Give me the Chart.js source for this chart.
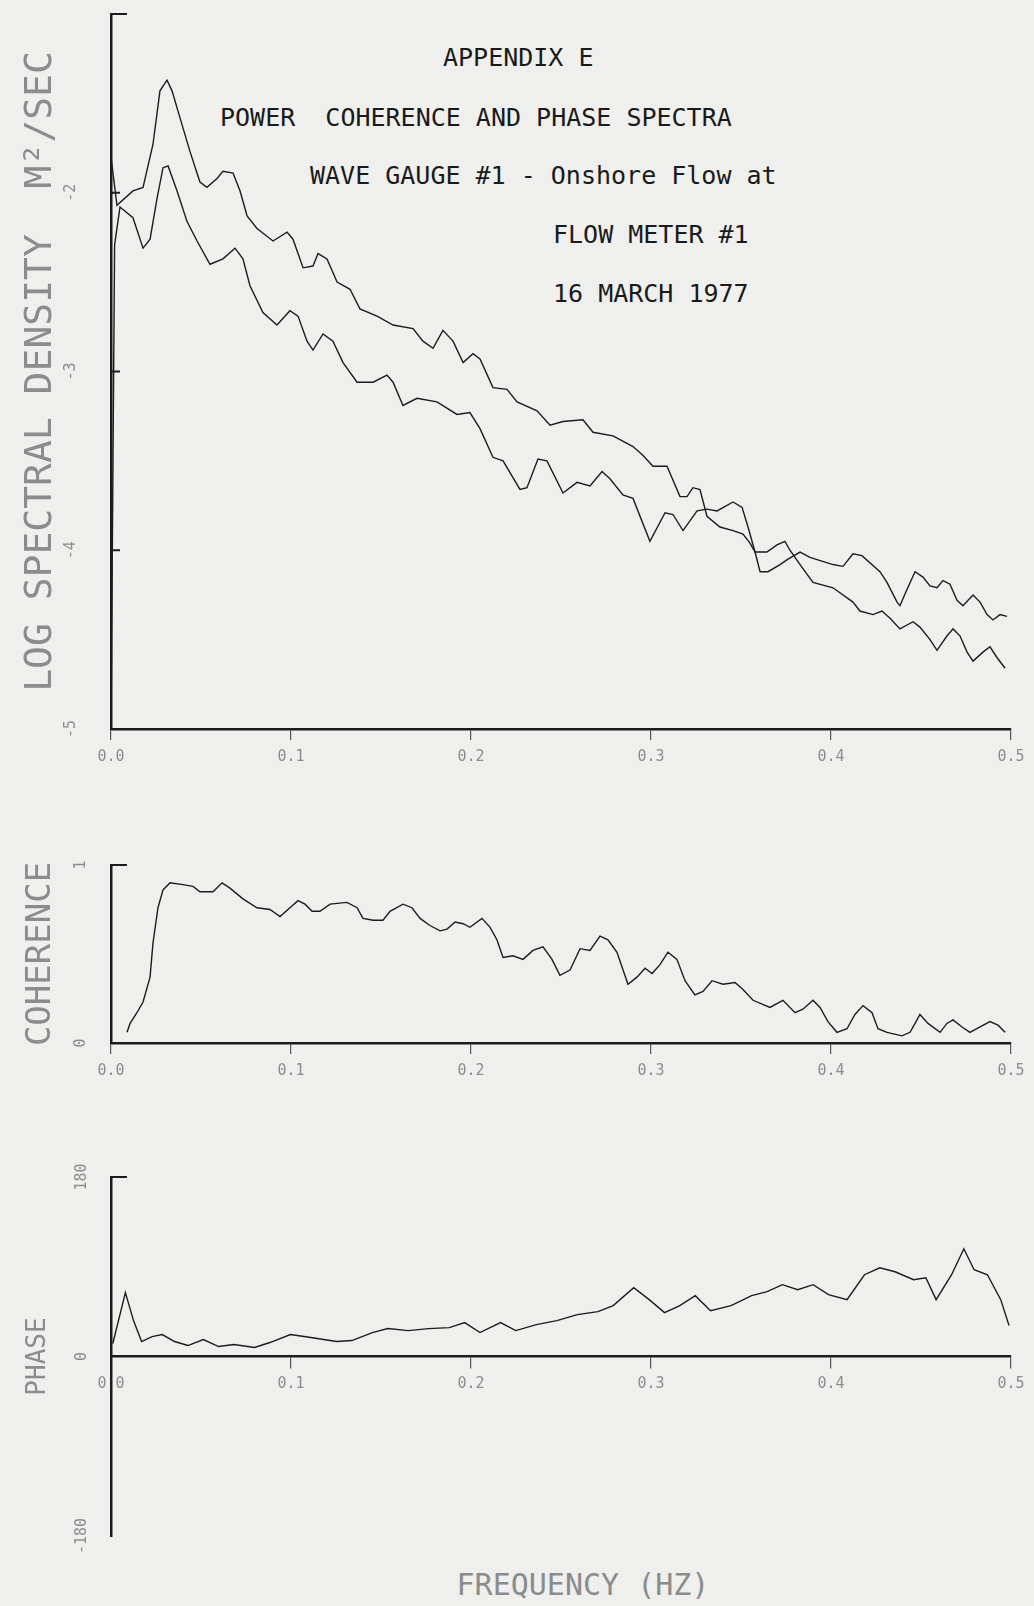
<!DOCTYPE html>
<html>
<head>
<meta charset="utf-8">
<script src="https://cdn.jsdelivr.net/npm/chart.js@4"></script>
<style>
  html, body { margin: 0; padding: 0; background: #efefed; }
  #page { position: relative; width: 1034px; height: 1606px; overflow: hidden; }
  canvas { position: absolute; left: 0; }
  .hdr { position: absolute; font-family: 'DejaVu Sans Mono', monospace; font-size: 25px; color: #1a1a1a; white-space: pre; line-height: 30px; }
  .xlab { position: absolute; font-family: 'DejaVu Sans Mono', monospace; font-size: 30px; color: #8c8c8c; white-space: pre; line-height: 36px; transform: translateX(-50%); }
</style>
</head>
<body>
<div id="page">
  <div class="hdr" style="left:443px; top:43px;">APPENDIX E</div>
  <div class="hdr" style="left:220px; top:103px;">POWER  COHERENCE AND PHASE SPECTRA</div>
  <div class="hdr" style="left:310px; top:161px;">WAVE GAUGE #1 - Onshore Flow at</div>
  <div class="hdr" style="left:553px; top:220px;">FLOW METER #1</div>
  <div class="hdr" style="left:553px; top:279px;">16 MARCH 1977</div>
  <canvas id="spec" width="1034" height="769" style="top:0px"></canvas>
  <canvas id="coh" width="1034" height="243" style="top:840px"></canvas>
  <canvas id="phase" width="1034" height="410" style="top:1150px"></canvas>
  <div class="xlab" style="left:583px; top:1567px;">FREQUENCY (HZ)</div>
</div>
<script>
// frequency ticks (Hz)
const freqTicks = [0, 0.1, 0.2, 0.3, 0.4, 0.5];

// log spectral density, upper curve near the peak
const specFreqA = [0, 0.0033, 0.0122, 0.0178, 0.0233, 0.0272, 0.0311, 0.0339, 0.0383, 0.0439,
  0.0494, 0.0533, 0.0589, 0.0622, 0.0678, 0.0717, 0.0756, 0.0811, 0.09, 0.0978,
  0.1011, 0.1067, 0.1122, 0.115, 0.12, 0.1256, 0.1328, 0.1383, 0.1478, 0.1567,
  0.1678, 0.1733, 0.1789, 0.1844, 0.19, 0.1956, 0.2011, 0.205, 0.2122, 0.22,
  0.2256, 0.2367, 0.2439, 0.2511, 0.2622, 0.2678, 0.2789, 0.29, 0.2956, 0.3011,
  0.3089, 0.3161, 0.32, 0.3233, 0.3272, 0.3311, 0.3383, 0.3456, 0.3511, 0.355,
  0.3578, 0.3644, 0.37, 0.3744, 0.3772, 0.3828, 0.39, 0.4011, 0.4122, 0.4161,
  0.4233, 0.4283, 0.4328, 0.4383, 0.4456, 0.4494, 0.455, 0.4589, 0.4644, 0.4678,
  0.4717, 0.4756, 0.4789, 0.4844, 0.4883, 0.4922, 0.4967];
const specA = [-1.80, -2.07, -1.99, -1.97, -1.73, -1.43, -1.37, -1.43, -1.58, -1.77,
  -1.94, -1.97, -1.92, -1.88, -1.89, -1.99, -2.13, -2.20, -2.27, -2.22,
  -2.26, -2.42, -2.41, -2.34, -2.37, -2.50, -2.54, -2.65, -2.69, -2.74,
  -2.76, -2.83, -2.87, -2.77, -2.83, -2.95, -2.90, -2.93, -3.09, -3.10,
  -3.17, -3.22, -3.30, -3.28, -3.27, -3.34, -3.36, -3.42, -3.47, -3.53,
  -3.53, -3.70, -3.70, -3.65, -3.66, -3.81, -3.87, -3.89, -3.91, -3.96,
  -4.01, -4.01, -3.97, -3.95, -4.00, -4.08, -4.18, -4.21, -4.29, -4.34,
  -4.36, -4.34, -4.38, -4.44, -4.40, -4.43, -4.50, -4.56, -4.48, -4.44,
  -4.48, -4.57, -4.62, -4.57, -4.54, -4.60, -4.66];

// log spectral density, second curve
const specFreqB = [0, 0.002, 0.005, 0.0122, 0.0178, 0.0217, 0.0256, 0.0289, 0.0317, 0.0367,
  0.0422, 0.0478, 0.055, 0.0622, 0.0689, 0.0733, 0.0772, 0.0844, 0.0922, 0.0994,
  0.1039, 0.1089, 0.1122, 0.1178, 0.1233, 0.1289, 0.1367, 0.1456, 0.1533, 0.1567,
  0.1622, 0.17, 0.1811, 0.1922, 0.1994, 0.205, 0.2122, 0.2178, 0.2272, 0.2311,
  0.2372, 0.2422, 0.2511, 0.2589, 0.2661, 0.2728, 0.2772, 0.2844, 0.29, 0.2994,
  0.3078, 0.3122, 0.3178, 0.3256, 0.3311, 0.3367, 0.3456, 0.3506, 0.3539, 0.3578,
  0.3606, 0.365, 0.3717, 0.3761, 0.3828, 0.3883, 0.4011, 0.4067, 0.4122, 0.4172,
  0.4272, 0.4311, 0.4367, 0.4383, 0.4422, 0.4467, 0.4511, 0.455, 0.4589, 0.4622,
  0.4661, 0.47, 0.4733, 0.4789, 0.4828, 0.4867, 0.49, 0.4939, 0.4978];
const specB = [-5.00, -2.29, -2.08, -2.14, -2.31, -2.26, -2.03, -1.86, -1.85, -1.99,
  -2.16, -2.27, -2.40, -2.37, -2.31, -2.37, -2.52, -2.67, -2.74, -2.66,
  -2.69, -2.83, -2.88, -2.79, -2.83, -2.95, -3.06, -3.06, -3.02, -3.06,
  -3.19, -3.15, -3.17, -3.24, -3.23, -3.32, -3.48, -3.50, -3.66, -3.65,
  -3.49, -3.50, -3.68, -3.62, -3.64, -3.56, -3.60, -3.69, -3.71, -3.95,
  -3.79, -3.80, -3.89, -3.78, -3.77, -3.78, -3.73, -3.76, -3.87, -4.01,
  -4.12, -4.12, -4.08, -4.05, -4.01, -4.04, -4.08, -4.09, -4.02, -4.03,
  -4.12, -4.18, -4.29, -4.31, -4.22, -4.12, -4.15, -4.20, -4.21, -4.17,
  -4.19, -4.28, -4.31, -4.25, -4.29, -4.36, -4.39, -4.36, -4.37];

// coherence
const cohFreq = [0.0089, 0.0106, 0.0144, 0.0178, 0.0217, 0.0233, 0.0261, 0.0289, 0.0328, 0.04,
  0.0456, 0.0494, 0.0567, 0.0617, 0.0661, 0.0733, 0.0811, 0.0883, 0.0939, 0.0994,
  0.1039, 0.1078, 0.1117, 0.1161, 0.1217, 0.1311, 0.1367, 0.14, 0.1456, 0.1511,
  0.155, 0.1622, 0.1672, 0.1717, 0.1772, 0.1828, 0.1867, 0.1911, 0.1956, 0.1994,
  0.2061, 0.2106, 0.2144, 0.2178, 0.2233, 0.2289, 0.2344, 0.24, 0.245, 0.2494,
  0.255, 0.2606, 0.2661, 0.2717, 0.2761, 0.2811, 0.2872, 0.2922, 0.2967, 0.3006,
  0.305, 0.3094, 0.3144, 0.3189, 0.3244, 0.3289, 0.3339, 0.34, 0.3467, 0.3511,
  0.3567, 0.3661, 0.3733, 0.38, 0.3844, 0.39, 0.3939, 0.3983, 0.4033, 0.4089,
  0.4133, 0.4178, 0.4228, 0.4261, 0.4311, 0.4394, 0.4439, 0.4467, 0.4494, 0.4539,
  0.4606, 0.4644, 0.4678, 0.4728, 0.4772, 0.4828, 0.4883, 0.4928, 0.4967];
const coh = [0.06, 0.11, 0.17, 0.23, 0.37, 0.56, 0.76, 0.86, 0.90, 0.89,
  0.88, 0.85, 0.85, 0.90, 0.87, 0.81, 0.76, 0.75, 0.71, 0.76,
  0.80, 0.78, 0.74, 0.74, 0.78, 0.79, 0.76, 0.70, 0.69, 0.69,
  0.74, 0.78, 0.76, 0.70, 0.66, 0.63, 0.64, 0.68, 0.67, 0.65,
  0.70, 0.65, 0.58, 0.48, 0.49, 0.47, 0.52, 0.54, 0.47, 0.38,
  0.41, 0.53, 0.52, 0.60, 0.58, 0.51, 0.33, 0.37, 0.42, 0.39,
  0.44, 0.51, 0.47, 0.35, 0.27, 0.29, 0.35, 0.33, 0.34, 0.30,
  0.24, 0.20, 0.24, 0.17, 0.19, 0.24, 0.20, 0.12, 0.06, 0.08,
  0.16, 0.21, 0.17, 0.08, 0.06, 0.04, 0.06, 0.11, 0.16, 0.11,
  0.06, 0.11, 0.13, 0.09, 0.06, 0.09, 0.12, 0.10, 0.06];

// phase (degrees)
const phaseFreq = [0.001, 0.008, 0.0125, 0.017, 0.0228, 0.0285, 0.0353, 0.0427, 0.0513, 0.0598,
  0.0683, 0.0797, 0.0883, 0.0997, 0.111, 0.1253, 0.1338, 0.1452, 0.1538, 0.1651,
  0.1765, 0.1879, 0.1965, 0.205, 0.2164, 0.2249, 0.2363, 0.2477, 0.2591, 0.2705,
  0.279, 0.2904, 0.299, 0.3075, 0.316, 0.3246, 0.3331, 0.3445, 0.3559, 0.3645,
  0.373, 0.3815, 0.3901, 0.3986, 0.4089, 0.4186, 0.4271, 0.4356, 0.4459, 0.4527,
  0.4584, 0.467, 0.4738, 0.4795, 0.4869, 0.4943, 0.4989];
const phase = [13, 64, 36, 15, 20, 22, 15, 11, 17, 10,
  12, 9, 14, 22, 19, 15, 16, 24, 28, 26,
  28, 29, 34, 24, 34, 26, 32, 36, 42, 45,
  51, 69, 57, 44, 51, 61, 46, 51, 61, 65,
  72, 67, 72, 62, 57, 82, 89, 85, 77, 79,
  57, 82, 108, 87, 82, 57, 31];

const specTicks = [-1, -2, -3, -4, -5];
const cohTicks = [0, 1];
const phaseTicks = [-180, 0, 180];

const INK = '#1c1c1c';
const FAINT = '#8c8c8c';
const MONO = "'DejaVu Sans Mono', monospace";

function pts(xs, ys) {
    return xs.map((x, i) => ({ x: x, y: ys[i] }));
}

// short tick marks drawn inside the plot on the y axis
const innerTicks = {
    id: 'innerTicks',
    afterDraw(chart) {
        const y = chart.scales.y;
        const ctx = chart.ctx;
        const left = chart.chartArea.left;
        ctx.save();
        ctx.strokeStyle = INK;
        ctx.lineWidth = 2;
        y.ticks.forEach(t => {
            if (t.value === y.min || t.value === 0) return;
            const py = y.getPixelForValue(t.value);
            const len = t.value === y.max ? 16 : 9;
            ctx.beginPath();
            ctx.moveTo(left, py);
            ctx.lineTo(left + len, py);
            ctx.stroke();
        });
        ctx.restore();
    }
};

function makeChart(id, datasets, yOpts, padTop, padBottom, xOnZero) {
    const xScale = {
        type: 'linear',
        min: 0,
        max: 0.5,
        afterBuildTicks: s => { s.ticks = freqTicks.map(v => ({ value: v })); },
        afterFit: s => { s.height = 40; },
        ticks: {
            color: FAINT,
            font: { family: MONO, size: 15 },
            padding: 8,
            maxRotation: 0,
            callback: v => v.toFixed(1)
        },
        grid: { drawOnChartArea: false, drawTicks: true, tickLength: 11, color: '#555', lineWidth: 1.2 },
        border: { display: true, color: INK, width: 2.5 }
    };
    if (xOnZero) xScale.position = { y: 0 };
    return new Chart(document.getElementById(id), {
        type: 'line',
        data: { datasets: datasets },
        options: {
            responsive: false,
            animation: false,
            layout: { padding: { top: padTop, right: 23, bottom: padBottom, left: 0 } },
            plugins: { legend: { display: false }, tooltip: { enabled: false } },
            elements: { point: { radius: 0 }, line: { tension: 0 } },
            scales: {
                x: xScale,
                y: Object.assign({
                    type: 'linear',
                    afterFit: s => { s.width = 111; s.paddingTop = 0; s.paddingBottom = 0; },
                    grid: { drawOnChartArea: false, drawTicks: false },
                    border: { display: true, color: INK, width: 2.5 }
                }, yOpts)
            }
        },
        plugins: [innerTicks]
    });
}

function line(data) {
    return { data: data, borderColor: INK, borderWidth: 1.4, fill: false, pointRadius: 0 };
}

function yAxis(min, max, ticks, title, titleSize, titlePad, tickPad, hide) {
    return {
        min: min,
        max: max,
        afterBuildTicks: s => { s.ticks = ticks.map(v => ({ value: v })); },
        ticks: {
            color: FAINT,
            font: { family: MONO, size: 15 },
            minRotation: 90,
            maxRotation: 90,
            crossAlign: 'center',
            padding: tickPad,
            callback: v => (hide && hide(v)) ? '' : String(v)
        },
        title: {
            display: true,
            text: title,
            color: FAINT,
            font: { family: MONO, size: titleSize },
            padding: { top: titlePad, bottom: 0 }
        }
    };
}

makeChart('spec',
    [line(pts(specFreqA, specA)), line(pts(specFreqB, specB))],
    yAxis(-5, -1, specTicks, 'LOG SPECTRAL DENSITY  M²/SEC', 38, 18, 31, v => v === -1),
    14, 0, false);

makeChart('coh',
    [line(pts(cohFreq, coh))],
    yAxis(0, 1, cohTicks, 'COHERENCE', 34, 21, 25),
    25, 0, false);

makeChart('phase',
    [line(pts(phaseFreq, phase))],
    yAxis(-180, 180, phaseTicks, 'PHASE', 26, 23, 11),
    27, 24, true);
</script>
</body>
</html>
